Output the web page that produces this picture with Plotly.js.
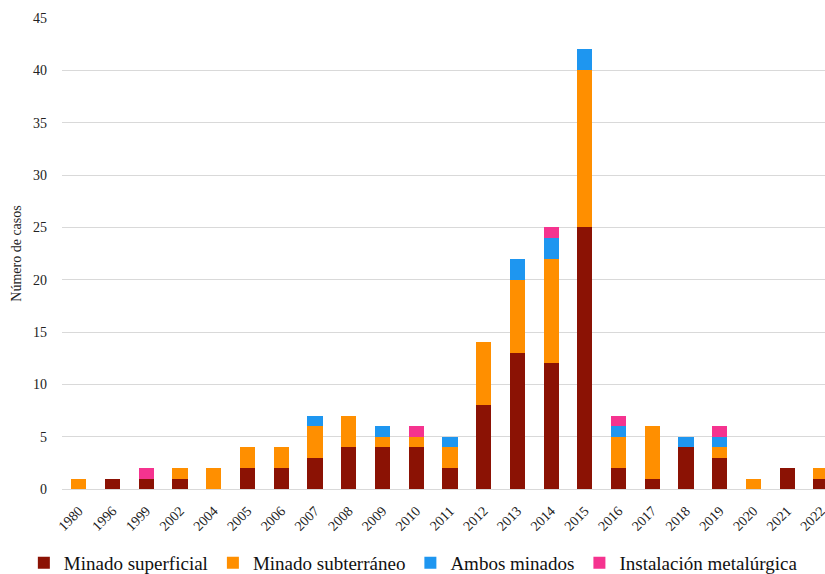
<!DOCTYPE html>
<html>
<head>
<meta charset="utf-8">
<script src="https://cdn.plot.ly/plotly-3.0.1.min.js"></script>
<style>html,body{margin:0;padding:0;background:#fff;}#chart{width:825px;height:574px;}</style>
</head>
<body>
<div id="chart"></div>
<script>
const years = ['1980','1996','1999','2002','2004','2005','2006','2007','2008','2009','2010','2011','2012','2013','2014','2015','2016','2017','2018','2019','2020','2021','2022'];
const superficial  = [0,1,1,1,0,2,2,3,4,4,4,2,8,13,12,25,2,1,4,3,0,2,1];
const subterraneo  = [1,0,0,1,2,2,2,3,3,1,1,2,6,7,10,15,3,5,0,1,1,0,1];
const ambos        = [0,0,0,0,0,0,0,1,0,1,0,1,0,2,2,2,1,0,1,1,0,0,0];
const metalurgica  = [0,0,1,0,0,0,0,0,0,0,1,0,0,0,1,0,1,0,0,1,0,0,0];
const yTicks = [0,5,10,15,20,25,30,35,40,45];

const names = ['Minado superficial','Minado subterráneo','Ambos minados','Instalación metalúrgica'];
const colors = ['#8B1204','#FF8F00','#1E96F0','#F5338F'];
const series = [superficial, subterraneo, ambos, metalurgica];

const traces = series.map((vals, i) => ({
  type: 'bar',
  x: years,
  y: vals,
  name: names[i],
  marker: {color: colors[i], line: {width: 0}},
  hoverinfo: 'x+y+name'
}));

const serif = 'Liberation Serif';

const layout = {
  width: 825,
  height: 574,
  barmode: 'stack',
  bargap: 0.55,
  paper_bgcolor: '#fff',
  plot_bgcolor: '#fff',
  font: {family: serif, color: '#222', size: 13},
  margin: {l: 62, r: 0, t: 18, b: 85, pad: 0, autoexpand: false},
  showlegend: true,
  legend: {
    orientation: 'h',
    xref: 'paper', yref: 'paper',
    x: -0.05, xanchor: 'left',
    y: -0.157, yanchor: 'middle',
    bgcolor: 'rgba(0,0,0,0)',
    font: {family: serif, size: 19, color: '#111'},
    itemwidth: 30,
    traceorder: 'normal',
    tracegroupgap: 0
  },
  xaxis: {
    type: 'category',
    range: [-0.5, 22.12],
    tickangle: -45,
    tickfont: {family: serif, size: 14},
    showgrid: false,
    showline: false,
    ticks: '',
    ticklabelstandoff: 10,
    automargin: false
  },
  yaxis: {
    range: [0, 45],
    tickvals: yTicks,
    ticktext: yTicks.map(String),
    tickfont: {family: serif, size: 14},
    showgrid: true,
    gridcolor: '#d9d9d9',
    gridwidth: 1,
    zeroline: true,
    zerolinecolor: '#d9d9d9',
    zerolinewidth: 1,
    showline: false,
    ticks: '',
    ticklabelstandoff: 14,
    title: {text: 'Número de casos', font: {family: serif, size: 14}, standoff: 8},
    automargin: false
  }
};

Plotly.newPlot('chart', traces, layout, {displayModeBar: false, staticPlot: true});
</script>
</body>
</html>
